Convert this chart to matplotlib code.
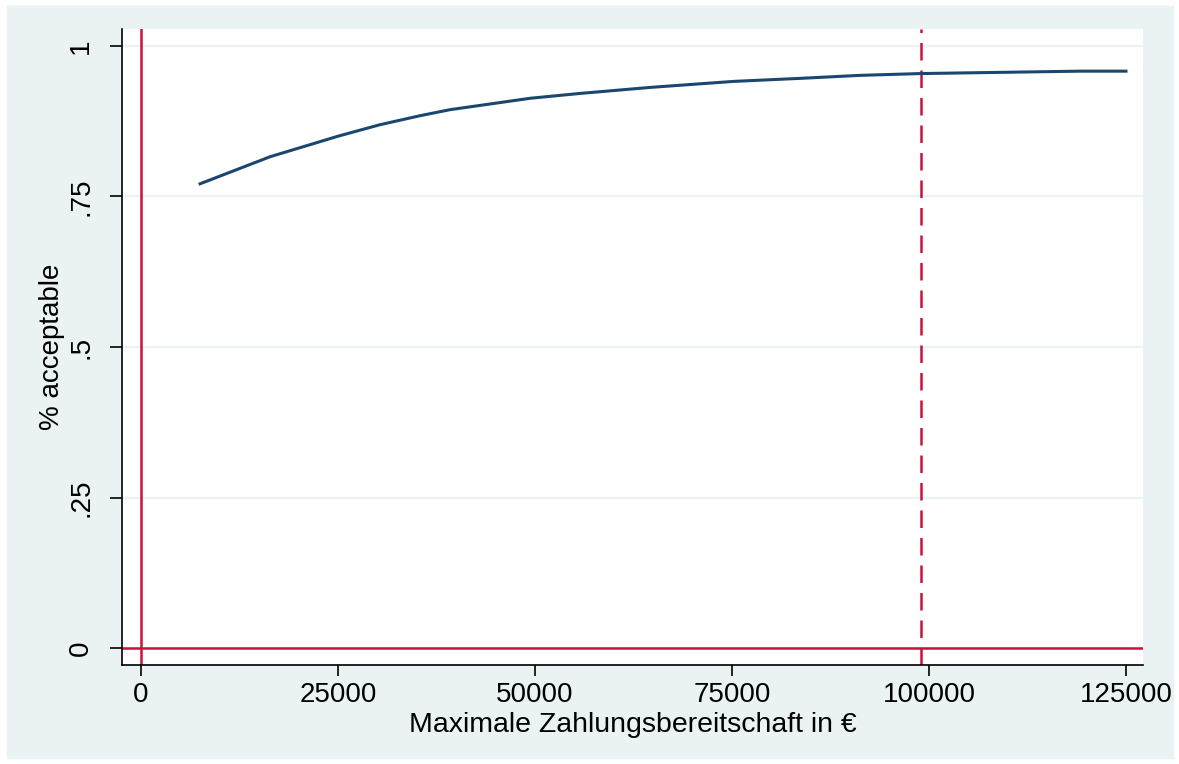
import matplotlib.pyplot as plt

# Werte
zahlung = [7500, 16400, 20200, 25000, 30300, 35400, 39200, 49400, 55700,
           64600, 75200, 83600, 91200, 98900, 109000, 119200, 125000]
anteil = [0.771, 0.816, 0.831, 0.850, 0.869, 0.884, 0.894, 0.913, 0.921,
          0.931, 0.941, 0.946, 0.951, 0.954, 0.956, 0.958, 0.958]
grenze = 99000

x_ticks = [0, 25000, 50000, 75000, 100000, 125000]
y_ticks = [0, 0.25, 0.5, 0.75, 1]
y_labels = ["0", ".25", ".5", ".75", "1"]

plt.rcParams['font.family'] = ['Liberation Sans', 'DejaVu Sans']

fig = plt.figure(figsize=(11.79, 7.64), dpi=100)
fig.patch.set_facecolor("white")
# hellblauer Hintergrund im Stata-Stil
bg = plt.Rectangle((7 / 1179, 6 / 764), 1166 / 1179, 752 / 764,
                   transform=fig.transFigure, color="#EAF2F3", zorder=0)
fig.patches.append(bg)

ax = fig.add_axes([122 / 1179, 1 - 665 / 764, 1021 / 1179, 636 / 764])
ax.set_facecolor("white")
ax.set_zorder(1)

ax.set_xlim(-2410, 127160)
ax.set_ylim(-0.028, 1.028)

for y in y_ticks:
    ax.axhline(y, color="#EAF2F3", lw=1.6, zorder=1)

rot = "#C8143C"
ax.axvline(0, color=rot, lw=1.8, zorder=2)
ax.axhline(0, color=rot, lw=1.8, zorder=2)
ax.axvline(grenze, color=rot, lw=1.8, ls=(0, (7, 4)), zorder=2)

ax.plot(zahlung, anteil, color="#1A476F", lw=2.2, zorder=3)

ax.spines["top"].set_visible(False)
ax.spines["right"].set_visible(False)
ax.spines["left"].set_linewidth(1.2)
ax.spines["bottom"].set_linewidth(1.2)

ax.set_xticks(x_ticks)
ax.set_xticklabels([str(v) for v in x_ticks])
ax.set_yticks(y_ticks)
ax.set_yticklabels(y_labels, rotation=90, va="center")
ax.tick_params(axis="x", labelsize=20, width=1.2, length=8, pad=4)
ax.tick_params(axis="y", labelsize=20, width=1.2, length=9, pad=11)

ax.set_xlabel("Maximale Zahlungsbereitschaft in €", fontsize=20.5, labelpad=3)
ax.set_ylabel("% acceptable", fontsize=20, labelpad=2)

fig.savefig("out.png", dpi=100, facecolor=fig.get_facecolor())
